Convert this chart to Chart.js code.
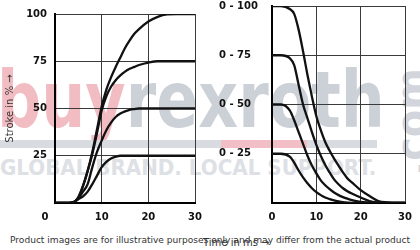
<!DOCTYPE html>
<html>
<head>
<meta charset="utf-8">
<script src="https://cdn.jsdelivr.net/npm/chart.js@4.4.1/dist/chart.umd.min.js"></script>
<style>
  body { margin: 0; width: 420px; height: 250px; position: relative; overflow: hidden; background: #fff; font-family: "DejaVu Sans", sans-serif; }
  .wm { position: absolute; white-space: nowrap; transform-origin: 0 0; font-weight: bold; line-height: 1; }
  .bar { position: absolute; height: 8px; top: 140px; }
  canvas { position: absolute; top: 0; }
  #left { left: 0; }
  #right { left: 210px; }
  .txt { position: absolute; white-space: nowrap; transform-origin: 0 0; line-height: 1; color: #333; }
</style>
</head>
<body>
<!-- watermark behind the charts -->
<div class="wm" id="wmMain" data-w="388" style="left:-3px;top:61px;font-size:78px"><span style="color:#f2bcc3">buy</span><span style="color:#ccd1d8">rexroth</span></div>
<div class="bar" style="left:0;width:221px;background:#d8dbe0"></div>
<div class="bar" style="left:221px;width:86px;background:#f3bfc6"></div>
<div class="bar" style="left:307px;width:70px;background:#d8dbe0"></div>
<div class="wm" id="wmTag" data-w="376" style="left:0;top:158px;font-size:21px;color:#dde0e4">GLOBAL BRAND. LOCAL SUPPORT.</div>
<div class="wm" id="wmCom" style="left:390px;top:176px;font-size:44px;color:#d2d6dc;transform:rotate(-90deg)">.com</div>

<canvas id="left" width="210" height="230"></canvas>
<canvas id="right" width="210" height="230"></canvas>

<div class="txt" id="timeTitle" style="left:203px;top:238px;font-size:10px">Time in ms →</div>
<div class="txt" id="note" data-w="400" style="left:10px;top:236px;font-size:9px">Product images are for illustrative purposes only and may differ from the actual product</div>

<script>
const times = [0, 2, 4, 5, 6, 7, 8, 9, 10, 11, 12, 13, 14, 15, 16, 17, 18, 20, 22, 24, 26, 28, 30];

// opening: 0 -> x %
const open100 = [0, 0, 0.5, 3, 9, 17, 27, 39, 51, 60, 66.5, 72, 77, 82, 86, 89.5, 92, 96, 98.5, 99.8, 100, 100, 100];
const open75  = [0, 0, 0.5, 3, 9, 17, 26, 37, 49, 56.5, 61.5, 65, 67.5, 69.5, 71, 72, 73, 74.3, 75, 75, 75, 75, 75];
const open50  = [0, 0, 0.5, 2.5, 6, 10, 19, 27, 33, 38.5, 42.5, 45.5, 47.3, 48.5, 49.3, 49.7, 50, 50, 50, 50, 50, 50, 50];
const open25  = [0, 0, 0.5, 2, 3.5, 6, 10, 14.5, 19, 21.8, 23.6, 24.5, 25, 25, 25, 25, 25, 25, 25, 25, 25, 25, 25];

// closing: x % -> 0
const close100 = [100, 100, 98.5, 96, 88, 77, 65, 54, 44, 37, 31, 26.5, 22.5, 19, 15.5, 12.5, 10.5, 6.5, 3.5, 1, 0.3, 0, 0];
const close75  = [75, 75, 73.5, 70, 60, 50, 43, 36, 29.5, 24, 19.3, 15.5, 12, 9.5, 7.5, 6, 4.8, 2.8, 1, 0.3, 0, 0, 0];
const close50  = [50, 50, 47, 42, 36, 30, 24, 19, 15, 11.5, 9, 7, 5.3, 4, 3, 2.2, 1.5, 0.6, 0.2, 0, 0, 0, 0];
const close25  = [25, 25, 23.5, 20.5, 16.5, 13, 10, 7.5, 5.5, 4, 2.8, 2, 1.3, 0.8, 0.4, 0.2, 0, 0, 0, 0, 0, 0, 0];

const strokeTicks = [25, 50, 75, 100];
const leftLabels = ["25", "50", "75", "100"];
const rightLabels = ["0 - 25", "0 - 50", "0 - 75", "0 - 100"];
const timeTicks = [0, 10, 20, 30];

// squeeze watermark / footer text to the widths seen in the picture
document.querySelectorAll("[data-w]").forEach(el => {
  el.style.transform = "scaleX(" + (el.dataset.w / el.offsetWidth) + ")";
});
const com = document.getElementById("wmCom");
com.style.transform = "rotate(-90deg) scaleX(" + (108 / com.offsetWidth) + ")";

const tickFont = { family: "DejaVu Sans", size: 10, weight: "bold" };

function dataset(values) {
  return {
    data: times.map((t, i) => ({ x: t, y: values[i] })),
    borderColor: "#111",
    borderWidth: 2.3,
    pointRadius: 0,
    cubicInterpolationMode: "monotone",
    fill: false
  };
}

// the left chart puts its "0" at the corner, left of the axis
const cornerZero = {
  id: "cornerZero",
  afterDraw(chart) {
    const ctx = chart.ctx;
    ctx.save();
    ctx.font = "bold 10px 'DejaVu Sans'";
    ctx.fillStyle = "#111";
    ctx.textAlign = "center";
    ctx.textBaseline = "middle";
    ctx.fillText("0", chart.chartArea.left - 10, chart.chartArea.bottom + 14);
    ctx.restore();
  }
};

function makeChart(id, series, labels, opt) {
  return new Chart(document.getElementById(id), {
    type: "line",
    data: { datasets: series.map(dataset) },
    options: {
      responsive: false,
      animation: false,
      events: [],
      layout: { padding: { top: 6, right: opt.rightPad, left: opt.leftPad, bottom: 0 } },
      plugins: { legend: { display: false }, tooltip: { enabled: false } },
      scales: {
        x: {
          type: "linear",
          min: 0,
          max: 30,
          afterBuildTicks: s => { s.ticks = timeTicks.map(v => ({ value: v })); },
          afterFit: s => { s.height = 27; },
          ticks: {
            font: tickFont,
            color: "#111",
            padding: 8,
            callback: v => (v === 0 && opt.title) ? "" : String(v)
          },
          grid: { color: "#3a3a3a", lineWidth: 1, drawTicks: false },
          border: { color: "#000", width: 2 }
        },
        y: {
          min: 0,
          max: 100,
          afterBuildTicks: s => { s.ticks = [0].concat(strokeTicks).map(v => ({ value: v })); },
          afterFit: s => { s.width = opt.yWidth; },
          ticks: {
            font: tickFont,
            color: "#111",
            padding: opt.labelPad,
            crossAlign: opt.align,
            callback: v => { const i = strokeTicks.indexOf(v); return i < 0 ? "" : labels[i]; }
          },
          grid: { color: "#3a3a3a", lineWidth: 1, drawTicks: false },
          border: { color: "#000", width: 2 },
          title: {
            display: opt.title,
            text: "Stroke in % →",
            color: "#333",
            font: { family: "DejaVu Sans", size: 10 },
            padding: { top: 4, bottom: 0 }
          }
        }
      }
    },
    plugins: opt.title ? [cornerZero] : []
  });
}

makeChart("left", [open100, open75, open50, open25], leftLabels,
  { yWidth: 55, leftPad: 0, labelPad: 8, rightPad: 12, align: "near", title: true });
makeChart("right", [close100, close75, close50, close25], rightLabels,
  { yWidth: 53, leftPad: 9, labelPad: 0, rightPad: 7, align: "far", title: false });
</script>
</body>
</html>
